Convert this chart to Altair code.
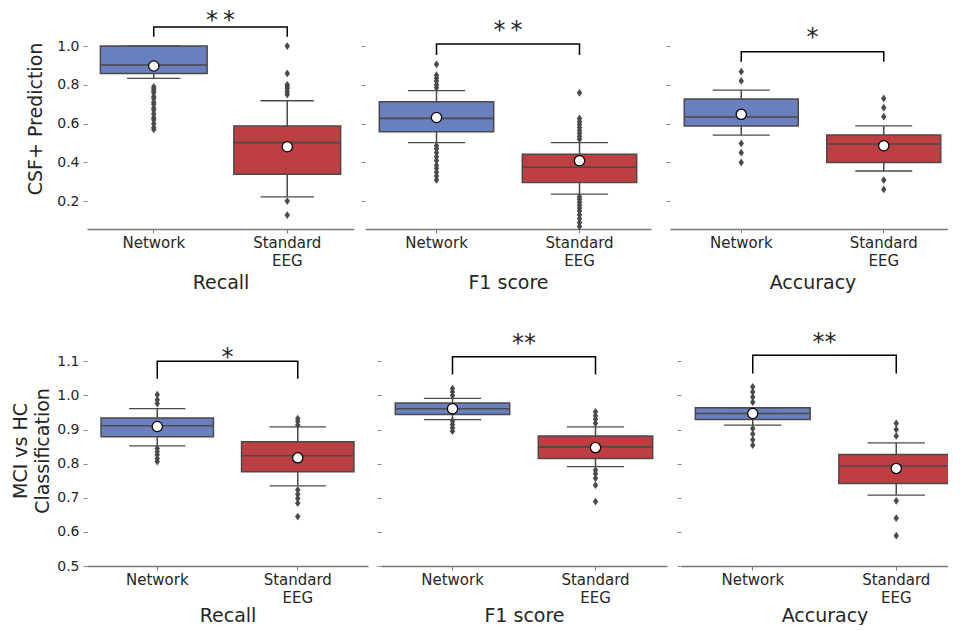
import altair as alt
import pandas as pd

FONT = "DejaVu Sans"
CATS = ["Network", "Standard EEG"]
BOX_COLORS = ["#6a7fbd", "#be3f42"]
LINE = "#4a4a4a"
TEXT = "#262626"
DIAMOND = "M0,-1L0.7,0L0,1L-0.7,0Z"

# stats per group: [lower whisker, q1, median, q3, upper whisker, mean]
# --- CSF+ Prediction : Recall
CSF_RECALL_NET = [0.833, 0.859, 0.902, 1.000, 1.000, 0.897]
CSF_RECALL_EEG = [0.223, 0.339, 0.502, 0.588, 0.718, 0.481]
CSF_RECALL_NET_OUT = [0.79, 0.78, 0.77, 0.76, 0.74, 0.73, 0.71, 0.70, 0.68, 0.67, 0.65, 0.63, 0.62, 0.60, 0.58, 0.57]
CSF_RECALL_EEG_OUT = [1.0, 0.859, 0.80, 0.79, 0.78, 0.765, 0.75, 0.201, 0.129]
CSF_RECALL_BRACKET = [1.048, 1.098]
CSF_RECALL_STARS = ["*\u2009*", 1.149]

# --- CSF+ Prediction : F1 score
CSF_F1_NET = [0.502, 0.558, 0.627, 0.713, 0.770, 0.632]
CSF_F1_EEG = [0.237, 0.297, 0.375, 0.442, 0.502, 0.409]
CSF_F1_NET_OUT = [0.906, 0.85, 0.835, 0.82, 0.80, 0.785, 0.486, 0.47, 0.45, 0.43, 0.41, 0.385, 0.37, 0.35, 0.33, 0.31]
CSF_F1_EEG_OUT = [0.759, 0.627, 0.61, 0.595, 0.58, 0.565, 0.55, 0.535, 0.52,
                  0.223, 0.21, 0.195, 0.18, 0.165, 0.15, 0.13, 0.11, 0.09, 0.07]
CSF_F1_BRACKET = [0.954, 1.010]
CSF_F1_STARS = ["*\u2009*", 1.098]

# --- CSF+ Prediction : Accuracy
CSF_ACC_NET = [0.541, 0.588, 0.634, 0.727, 0.773, 0.648]
CSF_ACC_EEG = [0.356, 0.400, 0.495, 0.541, 0.588, 0.486]
CSF_ACC_NET_OUT = [0.868, 0.820, 0.498, 0.45, 0.40]
CSF_ACC_EEG_OUT = [0.73, 0.682, 0.636, 0.309, 0.261]
CSF_ACC_BRACKET = [0.919, 0.971]
CSF_ACC_STARS = ["*", 1.062]

# --- MCI vs HC : Recall
MCI_RECALL_NET = [0.852, 0.879, 0.911, 0.934, 0.961, 0.909]
MCI_RECALL_EEG = [0.735, 0.776, 0.823, 0.864, 0.908, 0.817]
MCI_RECALL_NET_OUT = [1.002, 0.987, 0.976, 0.844, 0.835, 0.826, 0.815, 0.806]
MCI_RECALL_EEG_OUT = [0.932, 0.924, 0.913, 0.723, 0.71, 0.698, 0.684, 0.645]
MCI_RECALL_BRACKET = [1.049, 1.100]
MCI_RECALL_STARS = ["*", 1.121]

# --- MCI vs HC : F1 score
MCI_F1_NET = [0.929, 0.944, 0.961, 0.978, 0.991, 0.961]
MCI_F1_EEG = [0.791, 0.815, 0.849, 0.881, 0.908, 0.847]
MCI_F1_NET_OUT = [1.02, 1.01, 1.0, 0.925, 0.915, 0.905, 0.895]
MCI_F1_EEG_OUT = [0.952, 0.94, 0.93, 0.918, 0.781, 0.77, 0.757, 0.737, 0.689]
MCI_F1_BRACKET = [1.061, 1.113]
MCI_F1_STARS = ["**", 1.162]

# --- MCI vs HC : Accuracy
MCI_ACC_NET = [0.913, 0.929, 0.947, 0.964, 0.964, 0.947]
MCI_ACC_EEG = [0.708, 0.742, 0.794, 0.827, 0.861, 0.786]
MCI_ACC_NET_OUT = [1.025, 1.01, 0.995, 0.98, 0.903, 0.887, 0.870, 0.854]
MCI_ACC_EEG_OUT = [0.918, 0.90, 0.881, 0.691, 0.64, 0.589]
MCI_ACC_BRACKET = [1.064, 1.118]
MCI_ACC_STARS = ["**", 1.165]

TOP_TICKS = [0.2, 0.4, 0.6, 0.8, 1.0]
BOTTOM_TICKS = [0.5, 0.6, 0.7, 0.8, 0.9, 1.0, 1.1]
TOP_DOMAIN = [0.057, 1.196]
BOTTOM_DOMAIN = [0.5, 1.177]


def panel(net, eeg, net_out, eeg_out, bracket, stars, width, height, ydom, yticks,
          xtitle, ytitle=None, show_labels=False, ytitle_pad=8, ytitle_lh=22, xtitle_pad=5):
    box = pd.DataFrame({
        "cat": CATS,
        "lw": [net[0], eeg[0]], "q1": [net[1], eeg[1]], "med": [net[2], eeg[2]],
        "q3": [net[3], eeg[3]], "uw": [net[4], eeg[4]], "mean": [net[5], eeg[5]],
    })
    out = pd.DataFrame({"cat": [CATS[0]] * len(net_out) + [CATS[1]] * len(eeg_out),
                        "v": net_out + eeg_out})
    br = pd.DataFrame({"cat": [CATS[0], CATS[0], CATS[1], CATS[1]],
                       "v": [bracket[0], bracket[1], bracket[1], bracket[0]],
                       "o": [0, 1, 2, 3]})
    st = pd.DataFrame({"cat": [CATS[0]], "v": [stars[1]], "t": [stars[0]]})

    xscale = alt.Scale(domain=CATS, paddingInner=0, paddingOuter=0)
    xaxis = alt.Axis(labelAngle=0, labelExpr="split(datum.label, ' ')", labelLineHeight=18,
                     labelFontSize=15, labelPadding=2, tickSize=4, domainWidth=1.5,
                     domainColor="#7a7a7a", tickColor="#7a7a7a", titleFontSize=19,
                     titlePadding=xtitle_pad)

    def X(**kw):
        return alt.X("cat:N", scale=xscale, axis=xaxis, title=xtitle, **kw)

    yscale = alt.Scale(domain=ydom, nice=False, zero=False)
    yaxis = alt.Axis(values=yticks, format=".1f", labels=show_labels, domain=False, grid=False,
                     tickSize=4, tickColor="#8a8a8a", labelFontSize=14, labelPadding=4,
                     titleFontSize=19, titlePadding=ytitle_pad, titleLineHeight=ytitle_lh)

    def Y(f):
        return alt.Y(f + ":Q", scale=yscale, axis=yaxis, title=ytitle)

    color = alt.Color("cat:N", scale=alt.Scale(domain=CATS, range=BOX_COLORS), legend=None)

    whisk_hi = alt.Chart(box).mark_rule(color=LINE, strokeWidth=1.5).encode(x=X(), y=Y("q3"), y2="uw")
    whisk_lo = alt.Chart(box).mark_rule(color=LINE, strokeWidth=1.5).encode(x=X(), y=Y("lw"), y2="q1")
    boxes = alt.Chart(box).mark_bar(width=alt.RelativeBandSize(0.8), stroke=LINE, strokeWidth=1.5,
                                    opacity=1).encode(x=X(), y=Y("q1"), y2="q3", color=color)
    median = alt.Chart(box).mark_bar(width=alt.RelativeBandSize(0.8), filled=False, color=LINE,
                                     strokeWidth=1.6).encode(x=X(), y=Y("med"), y2="med")
    cap_hi = alt.Chart(box).mark_bar(width=alt.RelativeBandSize(0.4), filled=False, color=LINE,
                                     strokeWidth=1.3).encode(x=X(), y=Y("uw"), y2="uw")
    cap_lo = alt.Chart(box).mark_bar(width=alt.RelativeBandSize(0.4), filled=False, color=LINE,
                                     strokeWidth=1.3).encode(x=X(), y=Y("lw"), y2="lw")
    fliers = alt.Chart(out).mark_point(shape=DIAMOND, filled=True, color=LINE, size=60,
                                       opacity=1).encode(x=X(), y=Y("v"))
    means = alt.Chart(box).mark_point(shape="circle", filled=True, fill="white", stroke="black",
                                      strokeWidth=1.2, size=105, opacity=1).encode(x=X(), y=Y("mean"))
    brk = alt.Chart(br).mark_line(color="black", strokeWidth=1.5).encode(
        x=X(), y=Y("v"), order=alt.Order("o:Q"))
    star = alt.Chart(st).mark_text(fontSize=24, baseline="middle", dy=4, color=TEXT).encode(
        x=X(bandPosition=1), y=Y("v"), text="t:N")

    return alt.layer(whisk_hi, whisk_lo, boxes, median, cap_hi, cap_lo, fliers, means, brk, star
                     ).properties(width=width, height=height)


p1 = panel(CSF_RECALL_NET, CSF_RECALL_EEG, CSF_RECALL_NET_OUT, CSF_RECALL_EEG_OUT,
           CSF_RECALL_BRACKET, CSF_RECALL_STARS, 267, 221, TOP_DOMAIN, TOP_TICKS, "Recall",
           ytitle=["", "CSF+ Prediction"], show_labels=True, ytitle_pad=11, ytitle_lh=15)
p2 = panel(CSF_F1_NET, CSF_F1_EEG, CSF_F1_NET_OUT, CSF_F1_EEG_OUT,
           CSF_F1_BRACKET, CSF_F1_STARS, 286, 221, TOP_DOMAIN, TOP_TICKS, "F1 score")
p3 = panel(CSF_ACC_NET, CSF_ACC_EEG, CSF_ACC_NET_OUT, CSF_ACC_EEG_OUT,
           CSF_ACC_BRACKET, CSF_ACC_STARS, 285, 221, TOP_DOMAIN, TOP_TICKS, "Accuracy")
p4 = panel(MCI_RECALL_NET, MCI_RECALL_EEG, MCI_RECALL_NET_OUT, MCI_RECALL_EEG_OUT,
           MCI_RECALL_BRACKET, MCI_RECALL_STARS, 281, 231, BOTTOM_DOMAIN, BOTTOM_TICKS, "Recall",
           ytitle=["MCI vs HC", "Classification"], show_labels=True, ytitle_pad=4, ytitle_lh=22,
           xtitle_pad=1)
p5 = panel(MCI_F1_NET, MCI_F1_EEG, MCI_F1_NET_OUT, MCI_F1_EEG_OUT,
           MCI_F1_BRACKET, MCI_F1_STARS, 286, 231, BOTTOM_DOMAIN, BOTTOM_TICKS, "F1 score",
           xtitle_pad=1)
p6 = panel(MCI_ACC_NET, MCI_ACC_EEG, MCI_ACC_NET_OUT, MCI_ACC_EEG_OUT,
           MCI_ACC_BRACKET, MCI_ACC_STARS, 287, 231, BOTTOM_DOMAIN, BOTTOM_TICKS, "Accuracy",
           xtitle_pad=1)

row1 = alt.hconcat(alt.hconcat(p1, p2, spacing=6), p3, spacing=14)
row2 = alt.hconcat(alt.hconcat(p4, p5, spacing=8), p6, spacing=9)

chart = alt.vconcat(row1, row2, spacing=39).properties(
    padding={"left": 3, "top": 0, "right": -20, "bottom": 0}
).configure_view(strokeWidth=0).configure_axis(
    labelFont=FONT, titleFont=FONT, labelColor=TEXT, titleColor=TEXT, titleFontWeight="normal"
).configure_text(font=FONT)

chart.save("out.html", embed_options={"renderer": "svg", "actions": False})
